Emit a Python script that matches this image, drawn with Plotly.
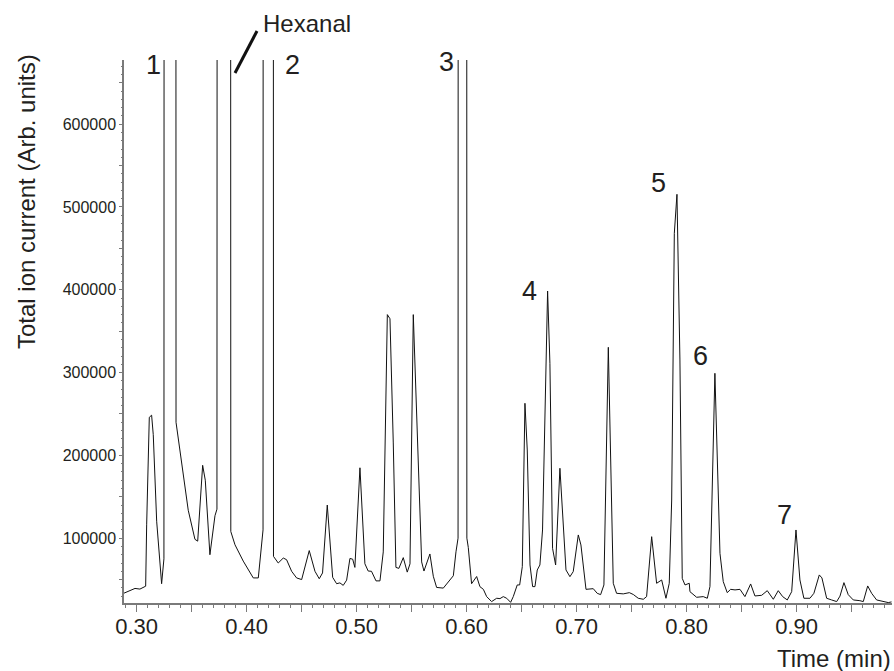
import plotly.graph_objects as go

# Retention time (min) and total ion current (arb. units); saturated peaks drawn with off-scale apex
time_min = [
    0.2885, 0.2939, 0.2985, 0.3030, 0.3060, 0.3082, 0.3091, 0.3115, 0.3136, 0.3151,
    0.3182, 0.3227, 0.3248, 0.3304, 0.3358, 0.3400, 0.3469, 0.3530, 0.3555, 0.3600,
    0.3624, 0.3666, 0.3712, 0.3730, 0.3794, 0.3856, 0.3894, 0.3969, 0.4060, 0.4106,
    0.4130, 0.4149, 0.4197, 0.4244, 0.4287, 0.4333, 0.4363, 0.4409, 0.4454, 0.4500,
    0.4569, 0.4621, 0.4660, 0.4690, 0.4733, 0.4782, 0.4818, 0.4848, 0.4878, 0.4909,
    0.4939, 0.4964, 0.4984, 0.5030, 0.5075, 0.5105, 0.5135, 0.5176, 0.5212, 0.5242,
    0.5279, 0.5303, 0.5333, 0.5357, 0.5384, 0.5424, 0.5460, 0.5485, 0.5515, 0.5551,
    0.5591, 0.5612, 0.5666, 0.5697, 0.5727, 0.5788, 0.5842, 0.5879, 0.5903, 0.5922,
    0.5962, 0.6002, 0.6015, 0.6045, 0.6091, 0.6121, 0.6152, 0.6182, 0.6227, 0.6273,
    0.6303, 0.6333, 0.6364, 0.6400, 0.6424, 0.6460, 0.6482, 0.6506, 0.6530, 0.6551,
    0.6576, 0.6600, 0.6621, 0.6642, 0.6666, 0.6690, 0.6736, 0.6757, 0.6781, 0.6809,
    0.6848, 0.6873, 0.6903, 0.6939, 0.6969, 0.7015, 0.7039, 0.7085, 0.7121, 0.7151,
    0.7187, 0.7218, 0.7248, 0.7288, 0.7333, 0.7363, 0.7424, 0.7479, 0.7515, 0.7560,
    0.7606, 0.7636, 0.7682, 0.7727, 0.7773, 0.7812, 0.7842, 0.7864, 0.7888, 0.7912,
    0.7939, 0.7960, 0.7985, 0.8024, 0.8030, 0.8091, 0.8151, 0.8188, 0.8212, 0.8257,
    0.8303, 0.8333, 0.8369, 0.8400, 0.8440, 0.8485, 0.8530, 0.8582, 0.8621, 0.8682,
    0.8733, 0.8788, 0.8833, 0.8873, 0.8915, 0.8955, 0.8994, 0.9030, 0.9066, 0.9121,
    0.9157, 0.9206, 0.9230, 0.9273, 0.9318, 0.9364, 0.9394, 0.9430, 0.9469, 0.9515,
    0.9575, 0.9606, 0.9646, 0.9682, 0.9727, 0.9788, 0.9833, 0.9863,
]
tic = [
    33600, 37200, 39300, 38500, 40700, 42000, 116100, 246000, 248500, 225000,
    120500, 45000, 75000, 30000000, 240000, 200000, 133700, 98600, 96400, 188000,
    170000, 80000, 127100, 135000, 30000000, 108000, 92000, 72300, 52000, 52000,
    90000, 110000, 30000000, 78000, 70000, 76000, 74000, 60000, 52000, 50000,
    85000, 60000, 51000, 58000, 140000, 52700, 45000, 46000, 43000, 49300,
    75500, 74600, 64700, 185000, 69100, 60300, 60000, 48400, 48400, 83400,
    370000, 365000, 215000, 64700, 63500, 76500, 59000, 69000, 370000, 216300,
    71300, 60300, 80900, 54000, 40500, 39700, 49300, 54600, 83500, 100000,
    30000000, 100000, 88800, 45000, 53700, 41400, 38200, 29400, 23400, 27400,
    27000, 29400, 27400, 22500, 29400, 43500, 43500, 65600, 262900, 206500,
    67600, 41500, 41500, 61600, 67600, 109900, 398500, 311200, 87800, 67600,
    184400, 126000, 61600, 53500, 59600, 103900, 91800, 38200, 38200, 39000,
    33400, 31800, 43500, 330500, 45500, 33400, 32700, 34200, 32000, 27400,
    26200, 29400, 101800, 45500, 49500, 27400, 45500, 146100, 468200, 515300,
    315200, 51500, 43500, 45500, 35400, 28600, 29400, 27400, 41500, 299100,
    81700, 47500, 34200, 38200, 37500, 38200, 29400, 44700, 30200, 31000,
    36600, 26200, 36600, 29400, 25400, 35400, 109900, 49500, 27400, 27400,
    33400, 55600, 52000, 27400, 25400, 23400, 30000, 46300, 31800, 25400,
    24500, 23400, 42300, 33400, 25400, 23400, 22200, 23000,
]

x_major_ticks = [0.30, 0.35, 0.40, 0.45, 0.50, 0.55, 0.60, 0.65, 0.70, 0.75, 0.80, 0.85, 0.90, 0.95]
x_tick_text = ["0.30", "", "0.40", "", "0.50", "", "0.60", "", "0.70", "", "0.80", "", "0.90", ""]
y_major_ticks = [50000, 100000, 150000, 200000, 250000, 300000, 350000, 400000, 450000, 500000, 550000, 600000, 650000]
y_tick_text = ["", "100000", "", "200000", "", "300000", "", "400000", "", "500000", "", "600000", ""]

peak_labels = ["1", "2", "3", "4", "5", "6", "7"]
peak_label_time = [0.3151, 0.4415, 0.5818, 0.6569, 0.7748, 0.8130, 0.8887]
peak_label_tic = [671500, 671500, 675100, 398900, 528600, 319700, 128000]

FONT = "Liberation Sans, Arial, Helvetica, sans-serif"
AXIS_GRAY = "#7a7a7a"
TXT = "#231f20"

fig = go.Figure()
fig.add_trace(go.Scatter(x=time_min, y=tic, mode="lines",
                         line=dict(color="#111111", width=1), hoverinfo="x+y",
                         showlegend=False))

for lab, tx, ty in zip(peak_labels, peak_label_time, peak_label_tic):
    fig.add_annotation(x=tx, y=ty, text=lab, showarrow=False, xref="x", yref="y",
                       font=dict(family=FONT, size=27, color=TXT),
                       xanchor="center", yanchor="middle")

W, H = 894, 671
L, R, T, B = 124, 2, 60, 68
pw, ph = W - L - R, H - T - B

def px2paper(px, py):
    return (px - L) / pw, (H - B - py) / ph

hx, hy = px2paper(261, 24)
fig.add_annotation(x=hx, y=hy, xref="paper", yref="paper", text="Hexanal", showarrow=False,
                   font=dict(family=FONT, size=24, color=TXT), xanchor="left", yanchor="middle")
x0, y0 = px2paper(235, 73)
x1, y1 = px2paper(257, 31)
fig.add_shape(type="line", xref="paper", yref="paper", x0=x0, y0=y0, x1=x1, y1=y1,
              line=dict(color="#111111", width=3))

tx_, ty_ = px2paper(893, 658)
fig.add_annotation(x=tx_, y=ty_, xref="paper", yref="paper", text="Time (min)", showarrow=False,
                   font=dict(family=FONT, size=24, color=TXT), xanchor="right", yanchor="middle")
yx_, yy_ = px2paper(26, 202)
fig.add_annotation(x=yx_, y=yy_, xref="paper", yref="paper", text="Total ion current (Arb. units)",
                   showarrow=False, textangle=-90,
                   font=dict(family=FONT, size=24, color=TXT), xanchor="center", yanchor="middle")

fig.update_layout(
    width=W, height=H, margin=dict(l=L, r=R, t=T, b=B, pad=0),
    paper_bgcolor="white", plot_bgcolor="white",
    font=dict(family=FONT, color=TXT),
    xaxis=dict(range=[0.2885, 0.9867], showgrid=False, zeroline=False,
               showline=True, linecolor=AXIS_GRAY, linewidth=1.5,
               tickmode="array", tickvals=x_major_ticks, ticktext=x_tick_text,
               ticks="outside", ticklen=7, tickwidth=1.2, tickcolor=AXIS_GRAY,
               ticklabelstandoff=-4,
               tickfont=dict(family=FONT, size=22, color=TXT),
               minor=dict(dtick=0.01, tick0=0, ticks="outside", ticklen=3.5,
                          tickwidth=1, tickcolor=AXIS_GRAY)),
    yaxis=dict(range=[21700, 677500], showgrid=False, zeroline=False,
               showline=True, linecolor=AXIS_GRAY, linewidth=1.5,
               tickmode="array", tickvals=y_major_ticks, ticktext=y_tick_text,
               ticks="outside", ticklen=3, tickwidth=1, tickcolor=AXIS_GRAY,
               tickfont=dict(family=FONT, size=16, color=TXT),
               minor=dict(dtick=10000, tick0=0, ticks="outside", ticklen=1.5,
                          tickwidth=1, tickcolor=AXIS_GRAY)),
)

fig.write_html("out.html")
